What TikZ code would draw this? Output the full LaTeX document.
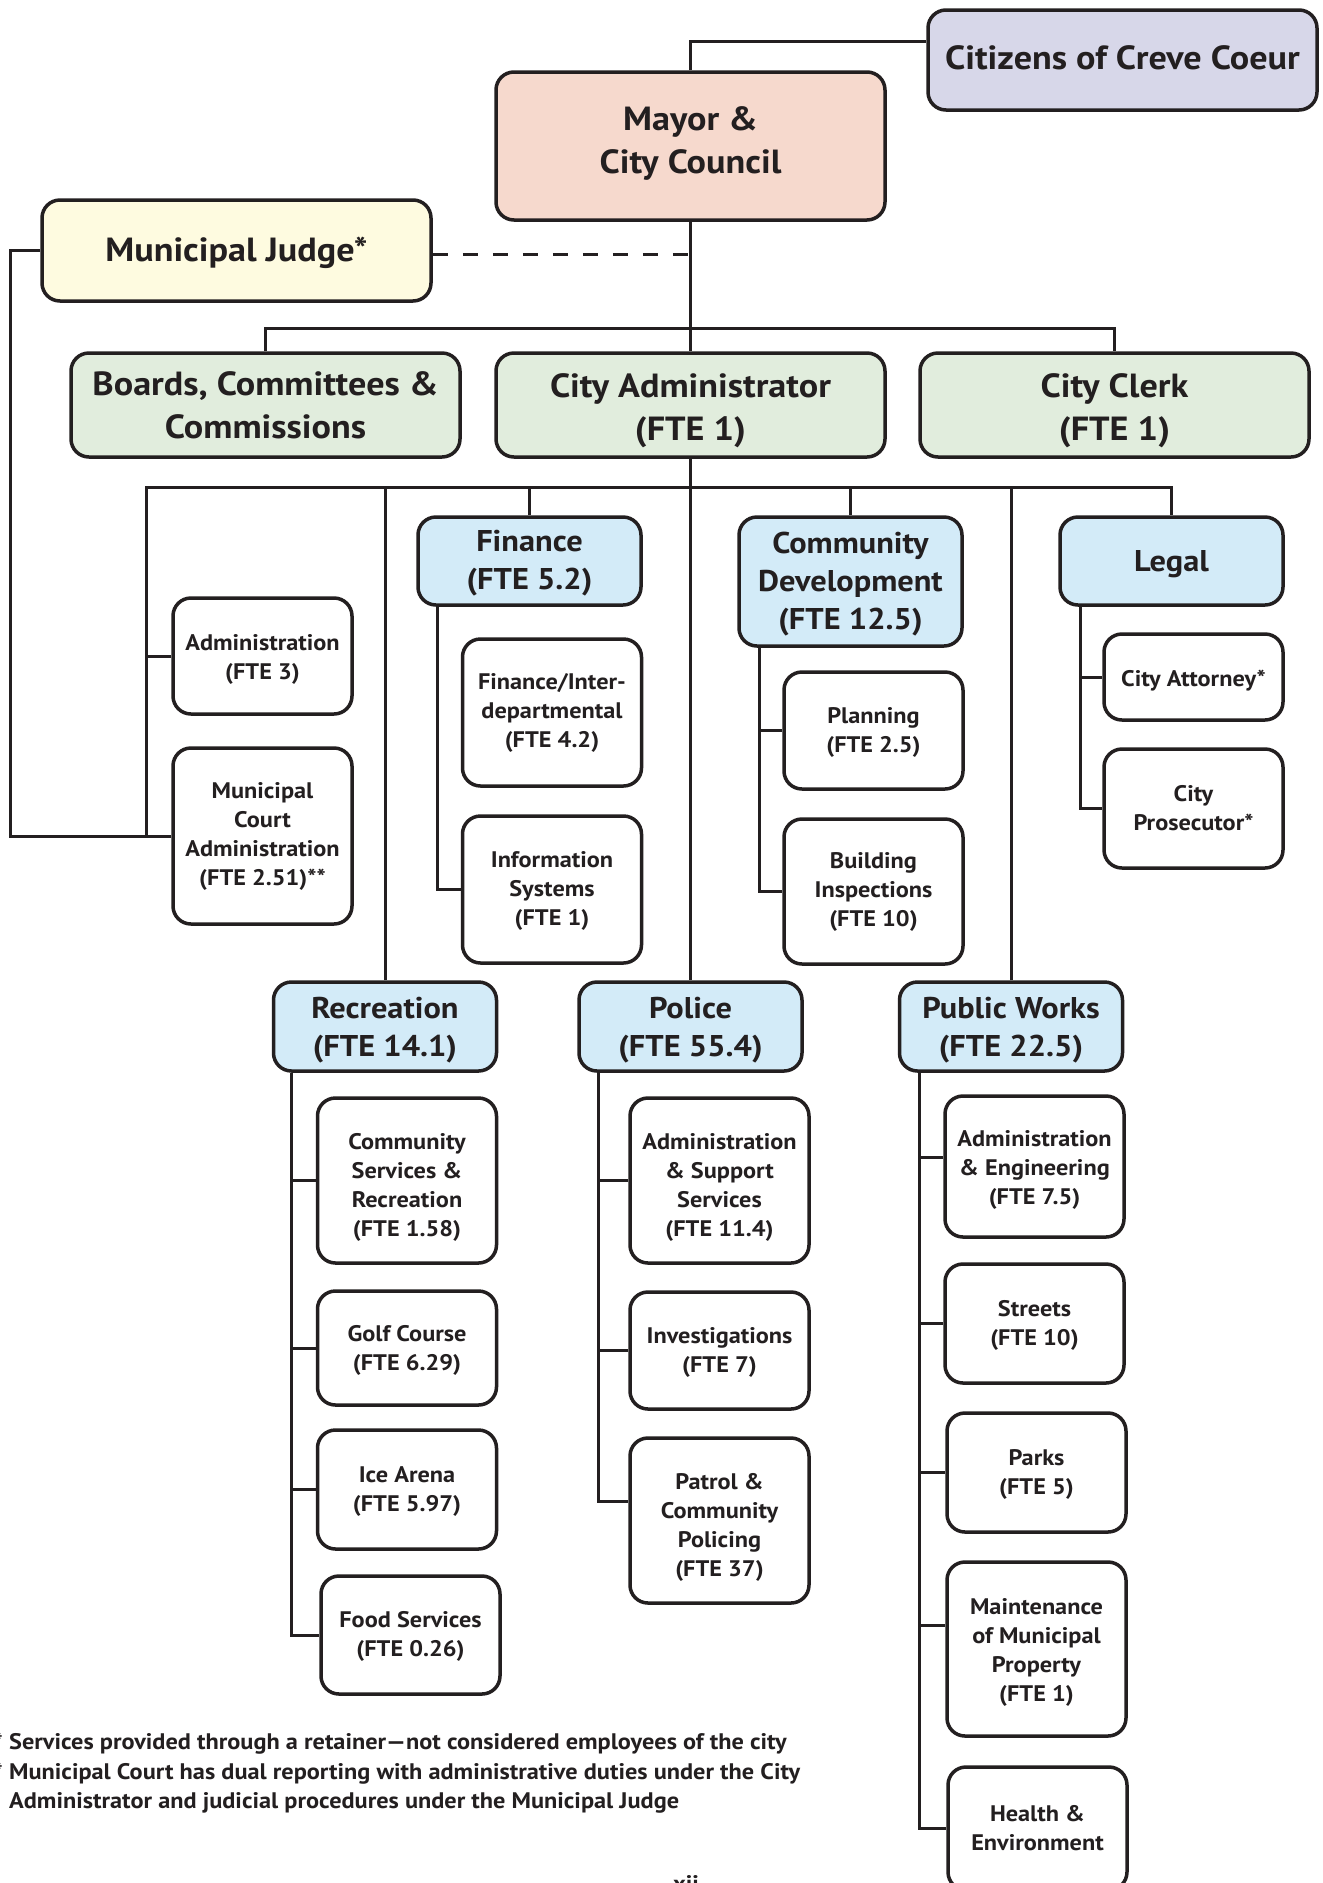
\documentclass[tikz,border=0pt]{standalone}
\usepackage{fontspec}
\setmainfont{PT Sans}[FakeStretch=1.08]
\definecolor{ink}{HTML}{231F20}
\definecolor{citfill}{HTML}{D7D7E9}
\definecolor{mayfill}{HTML}{F6D9CD}
\definecolor{judfill}{HTML}{FEFBE0}
\definecolor{grnfill}{HTML}{E1EDDD}
\definecolor{blufill}{HTML}{D3EBF8}
% shift the text of a box down (txdn) or up (txup) by the given amount
\newcommand\txdn[1]{\rule{0pt}{\dimexpr\fontcharht\font`d+#1*2\relax}}
\newcommand\txup[1]{\rule[-\dimexpr\fontchardp\font`y+#1*2\relax]{0pt}{0pt}}
\tikzset{
  box/.style={draw=ink, line width=3.5pt, rounded corners=18pt, align=center, inner sep=0pt, text=ink},
  bigbox/.style={box, minimum width=389pt, font=\fontsize{33.5}{43}\selectfont\bfseries},
  headbox/.style={box, fill=blufill, minimum width=223pt, font=\fontsize{30}{38}\selectfont\bfseries},
  unitbox/.style={box, fill=white, minimum width=179pt, font=\fontsize{22.5}{29}\selectfont\bfseries},
  conn/.style={draw=ink, line width=3pt},
  foot/.style={inner sep=0pt, text=ink, font=\fontsize{22.5}{31}\selectfont\bfseries}
}
\begin{document}
\begin{tikzpicture}[x=1pt,y=-1pt]
\useasboundingbox (0,0) rectangle (1323,1883);
\clip (0,0) rectangle (1323,1883);
\fill[white] (0,0) rectangle (1323,1883);

% top levels
\node[bigbox, fill=citfill, minimum height=100pt] (citizens) at (1122.5,60) {\raisebox{4pt}{Citizens of Creve Coeur}};
\node[bigbox, fill=mayfill, minimum height=148pt] (mayor) at (690.5,146) {Mayor \&\\City Council\txup{3pt}};
\node[bigbox, fill=judfill, minimum height=101pt] (judge) at (236.5,250.5) {\txdn{2.4pt}Municipal Judge*};
\node[bigbox, fill=grnfill, minimum height=104pt] (boards) at (265.5,405) {Boards, Committees \&\\Commissions};
\node[bigbox, fill=grnfill, minimum height=104pt] (cityadmin) at (690.5,405) {\txdn{6pt}City Administrator\\(FTE 1)};
\node[bigbox, fill=grnfill, minimum height=104pt] (clerk) at (1114.5,405) {\txdn{6pt}City Clerk\\(FTE 1)};

% departments
\node[headbox, minimum height=88pt] (finance) at (529.5,561) {\txdn{2.4pt}Finance\\(FTE 5.2)};
\node[headbox, minimum height=129pt] (comdev) at (850.5,581.5) {\txdn{3pt}Community\\Development\\(FTE 12.5)};
\node[headbox, minimum height=88pt] (legal) at (1171.5,561) {\txdn{3.6pt}Legal};
\node[headbox, minimum height=89pt] (recreation) at (385,1026.5) {\txdn{3.6pt}Recreation\\(FTE 14.1)};
\node[headbox, minimum height=89pt] (police) at (690.5,1026.5) {\txdn{3.6pt}Police\\(FTE 55.4)};
\node[headbox, minimum height=89pt] (publicworks) at (1011,1026.5) {\txdn{3.6pt}Public Works\\(FTE 22.5)};

% units
\node[unitbox, minimum height=116pt] (admin1) at (262.5,656) {\txdn{3.6pt}Administration\\(FTE 3)};
\node[unitbox, minimum height=176pt] (mcourt) at (262.5,836) {Municipal\\Court\\Administration\\(FTE 2.51)**};
\node[unitbox, minimum height=147pt] (fininter) at (552,712.5) {Finance/Inter-\\departmental\\(FTE 4.2)};
\node[unitbox, minimum height=147pt] (infosys) at (552,889.5) {\txdn{1.5pt}Information\\Systems\\(FTE 1)};
\node[unitbox, minimum height=117pt] (planning) at (873.5,730.5) {\txdn{2.4pt}Planning\\(FTE 2.5)};
\node[unitbox, minimum height=145pt] (building) at (873.5,891.5) {\txdn{1pt}Building\\Inspections\\(FTE 10)};
\node[unitbox, minimum height=86pt] (attorney) at (1193.5,677) {\txdn{3.6pt}City Attorney*};
\node[unitbox, minimum height=119pt] (prosecutor) at (1193.5,808.5) {City\\Prosecutor*};
\node[unitbox, minimum height=165pt] (commserv) at (407,1180.5) {\txdn{7pt}Community\\Services \&\\Recreation\\(FTE 1.58)};
\node[unitbox, minimum height=114pt] (golf) at (407,1348) {\txdn{3pt}Golf Course\\(FTE 6.29)};
\node[unitbox, minimum height=119pt] (ice) at (407,1489.5) {\txdn{2pt}Ice Arena\\(FTE 5.97)};
\node[unitbox, minimum height=118pt] (food) at (410.5,1635) {\txdn{2pt}Food Services\\(FTE 0.26)};
\node[unitbox, minimum height=165pt] (adminsup) at (719.5,1180.5) {\txdn{7pt}Administration\\\& Support\\Services\\(FTE 11.4)};
\node[unitbox, minimum height=117pt] (invest) at (719.5,1350.5) {\txdn{2.4pt}Investigations\\(FTE 7)};
\node[unitbox, minimum height=165pt] (patrol) at (719.5,1520.5) {\txdn{7.5pt}Patrol \&\\Community\\Policing\\(FTE 37)};
\node[unitbox, minimum height=141pt] (admineng) at (1034.5,1166.5) {\txdn{4pt}Administration\\\& Engineering\\(FTE 7.5)};
\node[unitbox, minimum height=119pt] (streets) at (1034.5,1323.5) {\txdn{2.4pt}Streets\\(FTE 10)};
\node[unitbox, minimum height=119pt] (parks) at (1036.5,1472.5) {\txdn{2pt}Parks\\(FTE 5)};
\node[unitbox, minimum height=174pt] (maint) at (1036.5,1649) {\txdn{3.6pt}Maintenance\\of Municipal\\Property\\(FTE 1)};
\node[unitbox, minimum height=123pt] (health) at (1037.5,1828.5) {Health \&\\Environment};

% connectors: top
\draw[conn] (mayor.north) |- (citizens.west |- 0,41);
\draw[conn] (mayor.south) -- (cityadmin.north);
\draw[conn, dash pattern=on 15pt off 15pt] ([yshift=-3.5pt]judge.east) -- ([yshift=-3.5pt]judge.east -| mayor.south);
\draw[conn] (boards.north) |- (clerk.north |- 0,328) -- (clerk.north);
% second bus
\draw[conn] (mcourt.west) -| (146,487) -- (legal.north |- 0,487) -- (legal.north);
\draw[conn] (admin1.west) -- (admin1.west -| 146,0);
\draw[conn] (recreation.north) -- (recreation.north |- 0,487);
\draw[conn] (finance.north) -- (finance.north |- 0,487);
\draw[conn] (comdev.north) -- (comdev.north |- 0,487);
\draw[conn] (publicworks.north) -- (publicworks.north |- 0,487);
\draw[conn] (cityadmin.south) -- (police.north);
\draw[conn] (judge.west) -- (judge.west -| 10,0) |- (mcourt.west);

% spines
\coordinate (fns) at ([xshift=21pt]finance.south west);
\draw[conn] (fns) |- (infosys.west);
\coordinate (cds) at ([xshift=22pt]comdev.south west);
\draw[conn] (cds) |- (building.west);
\draw[conn] (planning.west) -- (planning.west -| cds);
\coordinate (lgs) at ([xshift=22pt]legal.south west);
\draw[conn] (lgs) |- (prosecutor.west);
\draw[conn] (attorney.west) -- (attorney.west -| lgs);
\coordinate (rcs) at ([xshift=20pt]recreation.south west);
\draw[conn] (rcs) |- (food.west);
\draw[conn] (commserv.west) -- (commserv.west -| rcs);
\draw[conn] (golf.west) -- (golf.west -| rcs);
\draw[conn] (ice.west) -- (ice.west -| rcs);
\coordinate (pos) at ([xshift=21pt]police.south west);
\draw[conn] (pos) |- ([yshift=19.5pt]patrol.west);
\draw[conn] (adminsup.west) -- (adminsup.west -| pos);
\draw[conn] (invest.west) -- (invest.west -| pos);
\coordinate (pws) at ([xshift=22pt]publicworks.south west);
\draw[conn] (pws) |- (health.west);
\draw[conn] ([yshift=9.5pt]admineng.west) -- ([yshift=9.5pt]admineng.west -| pws);
\draw[conn] (streets.west) -- (streets.west -| pws);
\draw[conn] (parks.west) -- (parks.west -| pws);
\draw[conn] ([yshift=24pt]maint.west) -- ([yshift=24pt]maint.west -| pws);

% footnotes
\node[foot, anchor=base east] (ast1) at (3,1749) {*};
\node[foot, anchor=base east] (ast2) at (3,1779) {**};
\node[foot, anchor=base west] (fn1) at (9,1749) {Services provided through a retainer—not considered employees of the city};
\node[foot, anchor=base west] (fn2) at (9,1779) {Municipal Court has dual reporting with administrative duties under the City};
\node[foot, anchor=base west] (fn3) at (9,1808) {Administrator and judicial procedures under the Municipal Judge};
\node[foot, anchor=base] (pg) at (686,1891) {xii};
\end{tikzpicture}
\end{document}
